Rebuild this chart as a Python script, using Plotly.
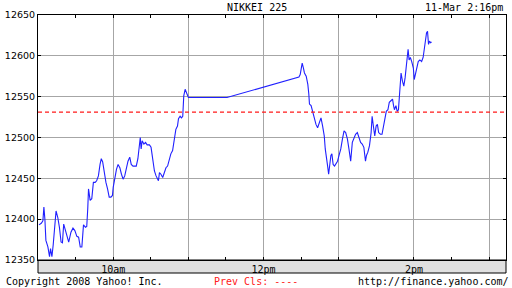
import plotly.graph_objects as go

# ---------------- data ----------------
OPEN_HOUR = 9  # minutes below are counted from 9:00

minutes = [
    0.8, 2.6, 3.9, 4.7, 5.5, 6.3, 7.9, 9.2, 10.0, 11.1,
    12.1, 13.2, 14.4, 15.8, 17.1, 18.4, 19.5, 20.5, 21.9, 23.1,
    24.5, 26.3, 27.9, 29.4, 31.0, 32.4, 33.7, 35.0, 36.3, 37.9,
    38.9, 39.7, 40.3, 41.6, 42.9, 44.2, 45.6, 46.8, 48.2, 49.5,
    50.5, 51.6, 52.9, 54.2, 55.5, 56.8, 58.2, 59.4,
    60.0, 61.3, 62.6, 63.9, 65.3, 66.6, 67.9, 69.2, 70.5, 71.8,
    73.2, 74.4, 75.8, 77.1, 78.4, 79.7, 80.5, 81.6, 82.3, 83.1,
    84.5, 85.8, 87.1, 88.9, 90.2, 91.6, 92.9, 94.2, 95.5, 96.1,
    96.9, 98.1, 99.5, 100.8, 102.1, 103.4, 104.8, 106.0, 107.4, 108.7,
    110.0, 111.3, 112.1, 113.4, 114.5, 115.5, 116.3, 117.4, 118.4, 119.2,
    120.0, 150.8, 208.2,
    209.2, 210.8, 211.8, 212.6, 214.0, 215.3, 216.1, 216.6, 217.9, 219.2,
    220.5, 221.8, 223.1, 224.5, 225.8, 227.1, 228.4, 229.2, 230.3, 231.1,
    231.9, 232.9, 233.7, 234.5, 235.5, 236.6, 237.6, 239.0, 240.2, 241.6,
    242.9, 244.2, 245.5, 246.9, 248.1, 249.5, 250.8, 252.1, 253.4, 254.8,
    256.0, 257.4, 258.7, 260.0, 261.3, 262.1, 263.2, 264.5, 265.8, 266.6,
    267.6, 268.7, 269.8, 270.8, 271.8, 273.2, 274.5, 275.8, 276.6,
    277.9, 279.2, 280.3, 281.6, 282.9, 283.7, 284.4, 285.6, 286.6, 287.6,
    288.4, 289.0, 289.7, 290.8, 291.9, 292.9, 294.2, 295.3, 296.1, 297.1,
    298.2, 299.5, 300.2, 301.3, 302.4, 303.4, 304.7, 306.1, 307.3, 308.1,
    309.2, 310.0, 310.8, 311.6, 312.4, 313.2, 314.0,
]

prices = [
    12393, 12395, 12398, 12415, 12400, 12374, 12366, 12354, 12364, 12354,
    12368, 12386, 12410, 12402, 12390, 12372, 12371, 12394, 12386, 12378,
    12372, 12384, 12389, 12386, 12379, 12378, 12366, 12366, 12393, 12390,
    12391, 12413, 12437, 12423, 12425, 12445, 12445, 12447, 12453, 12467,
    12474, 12470, 12455, 12445, 12437, 12427, 12427, 12429,
    12439, 12451, 12461, 12467, 12463, 12455, 12449, 12453, 12463, 12471,
    12476, 12467, 12465, 12465, 12465, 12474, 12488, 12500, 12486, 12496,
    12492, 12494, 12491, 12491, 12488, 12474, 12459, 12453, 12449, 12447,
    12457, 12455, 12451, 12457, 12463, 12465, 12474, 12480, 12484, 12496,
    12510, 12514, 12523, 12526, 12524, 12526, 12551, 12559, 12555, 12551,
    12549, 12549, 12574,
    12577, 12591, 12585, 12579, 12575, 12565, 12553, 12541, 12539, 12530,
    12522, 12516, 12512, 12520, 12524, 12514, 12502, 12486, 12476, 12465,
    12455, 12470, 12478, 12480, 12467, 12465, 12467, 12471, 12478, 12486,
    12498, 12508, 12506, 12498, 12486, 12471, 12494, 12500, 12504, 12506,
    12500, 12494, 12492, 12488, 12471, 12478, 12482, 12490, 12506, 12526,
    12514, 12502, 12514, 12516, 12506, 12504, 12504, 12514, 12524,
    12532, 12534, 12543, 12545, 12547, 12539, 12534, 12539, 12532, 12534,
    12551, 12565, 12579, 12569, 12563, 12573, 12595, 12608, 12595, 12598,
    12593, 12585, 12571, 12579, 12587, 12593, 12595, 12593, 12598, 12608,
    12622, 12628, 12630, 12614, 12618, 12616, 12617,
]

REF_LINE = 12531
Y_TICKS = [12350, 12400, 12450, 12500, 12550, 12600, 12650]
X_TICK_HOURS = [9, 10, 11, 12, 13, 14, 15]
X_TICK_TEXT = ["", "10am", "", "12pm", "", "2pm", ""]
TITLE = "NIKKEI 225"
STAMP = "11-Mar 2:16pm"
COPYRIGHT = "Copyright 2008 Yahoo! Inc."
PREV_CLS = "Prev Cls: ----"
URL = "http://finance.yahoo.com/"

# ---------------- figure ----------------
W, H = 512, 288
L, R, T, B = 34, 5, 15, 28
PW, PH = W - L - R, H - T - B

def px(x):
    return (x - L) / PW

def py(y):
    return (H - B - y) / PH

x_hours = [OPEN_HOUR + m / 60 for m in minutes]

MONO = "DejaVu Sans Mono"
GRID = "#a6a6a6"

fig = go.Figure()
fig.add_trace(go.Scatter(
    x=x_hours, y=prices, mode="lines",
    line=dict(color="#2020ff", width=1.1),
    hoverinfo="skip", showlegend=False,
))

fig.add_shape(type="line", xref="paper", x0=0, x1=1, yref="y",
              y0=REF_LINE, y1=REF_LINE,
              line=dict(color="#ff1a1a", width=1.2, dash="4px,3px"))
fig.add_shape(type="rect", xref="paper", yref="paper", x0=0, x1=1,
              y0=-13 / PH, y1=0, fillcolor="#e0e0e0",
              line=dict(color="black", width=1), layer="below")

fig.update_layout(
    width=W, height=H,
    margin=dict(l=L, r=R, t=T, b=B, pad=0),
    paper_bgcolor="white", plot_bgcolor="white",
    showlegend=False,
    xaxis=dict(
        range=[9, 9 + (W - R - L) / 76], tickmode="array",
        tickvals=X_TICK_HOURS, ticktext=X_TICK_TEXT,
        showgrid=True, gridcolor=GRID, gridwidth=1,
        showline=True, linecolor="black", linewidth=1, mirror="ticks",
        ticks="inside", ticklen=3, tickcolor="black",
        minor=dict(tickmode="linear", tick0=9, dtick=0.5, ticks="inside",
                   ticklen=3, tickcolor="black", showgrid=False),
        tickfont=dict(family=MONO, size=10, color="black"),
        zeroline=False, fixedrange=True,
    ),
    yaxis=dict(
        range=[12350, 12650], tickmode="array", tickvals=Y_TICKS,
        ticktext=[str(v) for v in Y_TICKS],
        showgrid=True, gridcolor=GRID, gridwidth=1,
        showline=True, linecolor="black", linewidth=1, mirror="ticks",
        ticks="inside", ticklen=3, tickcolor="black",
        tickfont=dict(family="DejaVu Sans", size=9.5, color="black"),
        zeroline=False, fixedrange=True,
    ),
)

ann_font = dict(family=MONO, size=10, color="black")
fig.add_annotation(text=TITLE, xref="paper", yref="paper", x=px(255.5), y=py(7),
                   xanchor="center", yanchor="middle", showarrow=False, font=ann_font)
fig.add_annotation(text=STAMP, xref="paper", yref="paper", x=px(506), y=py(7),
                   xanchor="right", yanchor="middle", showarrow=False, font=ann_font)
fig.add_annotation(text=COPYRIGHT, xref="paper", yref="paper", x=px(0), y=py(281.5),
                   xanchor="left", yanchor="middle", showarrow=False, font=ann_font)
fig.add_annotation(text=PREV_CLS, xref="paper", yref="paper", x=px(210), y=py(281.5),
                   xanchor="left", yanchor="middle", showarrow=False,
                   font=dict(family=MONO, size=10, color="#ff2020"))
fig.add_annotation(text=URL, xref="paper", yref="paper", x=px(512), y=py(281.5),
                   xanchor="right", yanchor="middle", showarrow=False, font=ann_font)

fig.write_html("out.html", config={"displayModeBar": False})
